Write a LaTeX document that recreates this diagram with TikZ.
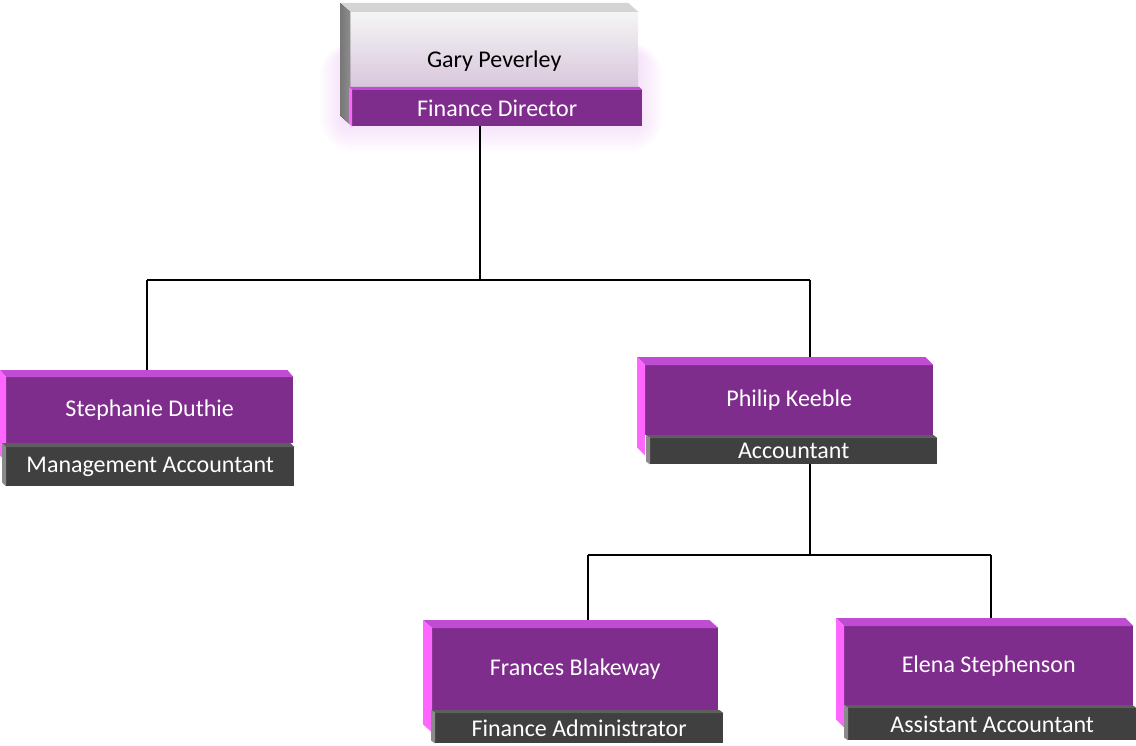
\documentclass[tikz,border=0pt]{standalone}
\usepackage{fontspec}
\setmainfont{Carlito}
\usetikzlibrary{calc}
\definecolor{pface}{HTML}{7F2D8D}
\definecolor{ptop}{HTML}{C04CD4}
\definecolor{pside}{HTML}{FF66FF}
\definecolor{gface}{HTML}{404040}
\definecolor{gtop}{HTML}{5E5E5E}
\definecolor{gside}{HTML}{8A8A8A}
\definecolor{pglow}{HTML}{E9B8F2}
\definecolor{wtop}{HTML}{D4D4D4}
\definecolor{wside}{HTML}{8C8C8C}
\definecolor{wbottom}{HTML}{D8C6DC}
\newcommand{\bevelbox}[6]{% node, dx, dy, top colour, side colour, extra
  \fill[#4] (#1.north west) -- ($(#1.north west)+(#2,#3)$) -- ($(#1.north east)+(#2,#3)$) -- (#1.north east) -- cycle;
  \fill[#5] (#1.north west) -- ($(#1.north west)+(#2,#3)$) -- ($(#1.south west)+(#2,#3+#6)$) -- ($(#1.south west)+(0,#6)$) -- cycle;
}
\begin{document}
\begin{tikzpicture}[x=1pt,y=-1pt,
  face/.style={fill=pface, text=white, inner sep=0pt, anchor=north west, font=\fontsize{24}{28}\selectfont},
  bar/.style={fill=gface, text=white, inner sep=0pt, anchor=north west, font=\fontsize{24}{28}\selectfont},
  conn/.style={line width=2pt, black}]
\useasboundingbox (0,0) rectangle (1136,746);
% glow behind the top box
\foreach \i in {1,...,16}
  \fill[pglow, opacity=0.03, rounded corners=\i*2.2pt] (345-\i*1.6,55-\i*0.8) rectangle (637+\i*1.6,122+\i*1.9);
% ---- Gary Peverley
\node[anchor=north west, minimum width=288pt, minimum height=76pt, inner sep=0pt,
      top color=white!96!black, bottom color=wbottom, shading angle=0] (gp) at (350,12) {};
\bevelbox{gp}{-10}{-9}{wtop}{left color=wside!85!black, right color=wside}{36}
\node[font=\fontsize{24}{28}\selectfont] (gpt) at ($(gp.center)+(0,11)$) {Gary Peverley};
\node[face, minimum width=290pt, minimum height=36pt] (fd) at (352,90) {Finance Director};
\bevelbox{fd}{-3}{-3}{ptop}{pside}{0}
% ---- Stephanie Duthie
\node[face, minimum width=287pt, minimum height=66pt] (sd) at (6,377) {Stephanie Duthie};
\bevelbox{sd}{-6}{-7}{ptop}{pside}{19}
\node[bar, minimum width=288pt, minimum height=39pt] (sdb) at (6,447) {Management Accountant};
\bevelbox{sdb}{-4}{-4}{gtop}{gside}{0}
% ---- Philip Keeble
\node[face, minimum width=288pt, minimum height=70pt] (pk) at (645,365) {Philip Keeble};
\bevelbox{pk}{-8}{-8}{ptop}{pside}{20}
\node[bar, minimum width=287pt, minimum height=26pt] (pkb) at (650,438) {Accountant};
\bevelbox{pkb}{-4}{-3}{gtop}{gside}{0}
% ---- Frances Blakeway
\node[face, minimum width=286pt, minimum height=82pt] (fb) at (432,628) {Frances Blakeway};
\bevelbox{fb}{-9}{-8}{ptop}{pside}{22}
\node[bar, minimum width=288pt, minimum height=30pt] (fbb) at (435,713) {Finance Administrator};
\bevelbox{fbb}{-4}{-3}{gtop}{gside}{0}
% ---- Elena Stephenson
\node[face, minimum width=289pt, minimum height=79pt] (es) at (844,626) {Elena Stephenson};
\bevelbox{es}{-8}{-8}{ptop}{pside}{22}
\node[bar, minimum width=288pt, minimum height=32pt] (esb) at (848,708) {Assistant Accountant};
\bevelbox{esb}{-4}{-3}{gtop}{gside}{0}
% ---- connectors
\coordinate (j1) at (480,280);
\coordinate (bl) at (147,280);
\coordinate (br) at (810,280);
\coordinate (j2) at (810,555);
\coordinate (cl) at (588,555);
\coordinate (cr) at (991,555);
\draw[conn] (fd.south -| j1) -- (j1);
\draw[conn] (bl) -- (br);
\draw[conn] (bl) -- ($(bl |- sd.north)+(0,-7)$);
\draw[conn] (br) -- ($(br |- pk.north)+(0,-8)$);
\draw[conn] (pkb.south -| j2) -- (j2);
\draw[conn] (cl) -- (cr);
\draw[conn] (cl) -- ($(cl |- fb.north)+(0,-8)$);
\draw[conn] (cr) -- ($(cr |- es.north)+(0,-8)$);
\end{tikzpicture}
\end{document}
